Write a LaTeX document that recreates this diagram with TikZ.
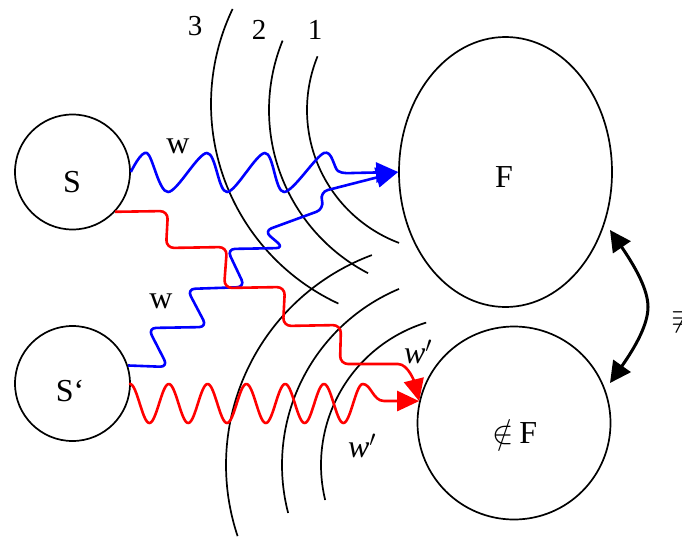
\RequirePackage{fix-cm}
\documentclass[tikz,border=0pt]{standalone}
\usepackage{fontspec}
\setmainfont{Liberation Serif}
\usetikzlibrary{arrows.meta,shapes.geometric}
\begin{document}
\begin{tikzpicture}[x=1pt,y=-1pt,
  outline/.style={draw=black,line width=1.7pt,inner sep=0pt},
  arcline/.style={draw=black,line width=1.7pt},
  bluew/.style={draw=blue,line width=2.6pt,line join=round},
  redw/.style={draw=red,line width=2.6pt,line join=round},
  tipb/.style={-{Triangle[length=22pt,width=20pt]}},
  lab/.style={inner sep=0pt,font=\fontsize{32}{38}\selectfont},
  num/.style={inner sep=0pt,font=\fontsize{29}{34}\selectfont},
]
\useasboundingbox (0,0) rectangle (682,538);
\clip (0,0) rectangle (682,538);
\fill[white] (0,0) rectangle (682,538);

% top wave fronts (3, 2, 1)
\draw[arcline] plot[domain=154.4:245.1,samples=90,smooth] ({431+220*cos(\x)},{104-220*sin(\x)});
\draw[arcline] plot[domain=157.85:242.5,samples=90,smooth] ({453+184*cos(\x)},{110-184*sin(\x)});
\draw[arcline] plot[domain=157.8:249.4,samples=90,smooth] ({449+142*cos(\x)},{110-142*sin(\x)});
% bottom wave fronts
\draw[arcline] plot[domain=110.4:198.5,samples=90,smooth] ({450+224*cos(\x)},{465-224*sin(\x)});
\draw[arcline] plot[domain=112.8:194.55,samples=90,smooth] ({473+191*cos(\x)},{465-191*sin(\x)});
\draw[arcline] plot[domain=107.1:193.6,samples=90,smooth] ({470+149*cos(\x)},{465-149*sin(\x)});

% nodes
\node[circle,outline,minimum size=115pt] (S1) at (72.5,172) {};
\node[circle,outline,minimum size=115pt] (S2) at (72.5,383.5) {};
\node[ellipse,outline,minimum width=213pt,minimum height=270pt] (F) at (505.5,172) {};
\node[circle,outline,minimum size=193pt] (nF) at (514,423) {};

% labels
\node[lab] (tS1) at (72,182) {S};
\node[lab] (tS2) at (70,391) {S‘};
\node[lab] (tF) at (504,177) {F};
\node[lab] (tnF) at (515,432) {$\notin$\,F};
\node[num] (t3) at (195,26) {3};
\node[num] (t2) at (259,30) {2};
\node[num] (t1) at (315,30) {1};
\node[lab] (w1) at (178,146) {w};
\node[lab] (w2) at (161,301) {w};
\node[lab] (wp1) at (418,352) {\textit{w}$'$};
\node[lab] (wp2) at (362,446) {\textit{w}$'$};
\node[lab,anchor=west] (neq) at (671,318) {$\not\equiv$};

% blue photon S -> F (wave)
\draw[bluew,tipb] plot[smooth,tension=0.55] coordinates {(S1.east) (147,153) (168,192) (207,153) (227,192) (265,153) (284,192) (324,153) (338,171) (352,173)} -- (F.west);

% blue zigzag S' -> F
\draw[bluew,tipb,rounded corners=8pt] (S2.18) -- (168,367) -- (148,328) -- (207,327) -- (187,289) -- (245,287) -- (227,249) -- (284,248) -- (264,231) -- (324,209) -- (320,192) -- (F.west);

% red zigzag S -> notF
\draw[redw,tipb,rounded corners=8pt] (S1.-43) -- (168,211) -- (166,248) -- (227,247) -- (224,288) -- (285,287) -- (283,326) -- (341,325) -- (340,364) -- (390,364) to[out=0,in=104] (nF.167);

% red wave S' -> notF
\draw[redw,tipb] (S2.east) -- plot[domain=130:362.8,samples=220] (\x,{403.5-19.5*cos((\x-130)*9.27835)}) .. controls (371,384) and (373,401) .. (384,401) -- (nF.167);

% double arrow between F and notF
\coordinate (dA) at (610,230);
\coordinate (dB) at (610,383);
\draw[line width=3pt,{Triangle[length=21pt,width=21pt]}-{Triangle[length=21pt,width=21pt]}] (dA) .. controls (636,268) and (648,290) .. (648,307) .. controls (648,324) and (636,346) .. (dB);
\end{tikzpicture}
\end{document}
